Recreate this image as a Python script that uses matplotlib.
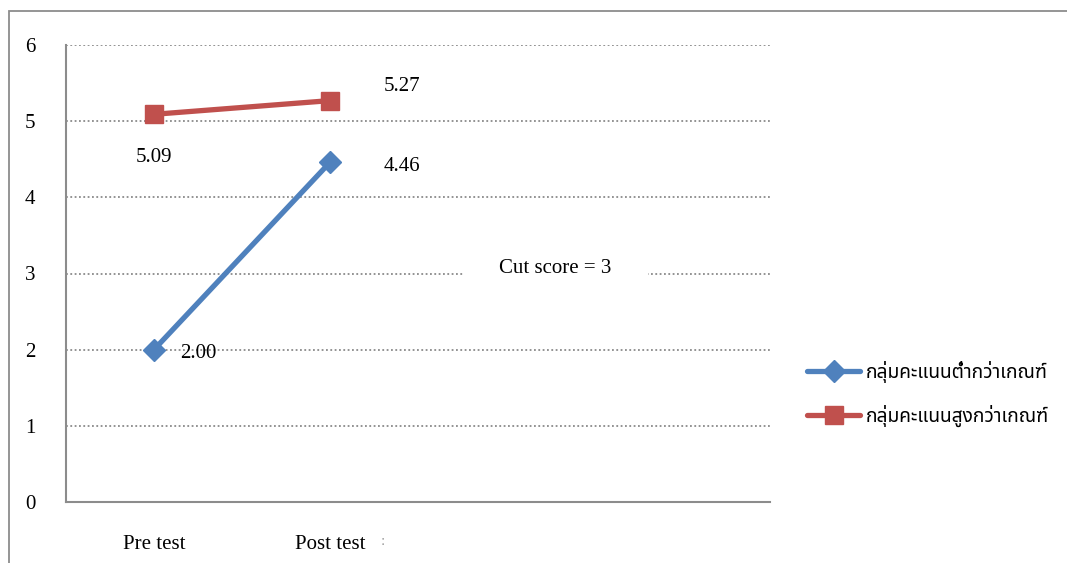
import matplotlib
matplotlib.use("Agg")
import matplotlib.pyplot as plt
from matplotlib import font_manager
from matplotlib.patches import Rectangle

# ---- data -------------------------------------------------------------
categories = ["Pre test", "Post test", "", ""]
series_names = ["กลุ่มคะแนนต่ำกว่าเกณฑ์", "กลุ่มคะแนนสูงกว่าเกณฑ์"]
low_group = [2.00, 4.46]
high_group = [5.09, 5.27]
cut_score = 3
y_ticks = [0, 1, 2, 3, 4, 5, 6]

BLUE = "#4F81BD"
RED = "#C0504D"
GREY = "#8C8C8C"


def find_thai_family():
    """Return the name of an installed family that covers Thai, if any."""
    try:
        from fontTools.ttLib import TTFont
    except ImportError:
        return None
    found = []
    for fe in font_manager.fontManager.ttflist:
        try:
            f = TTFont(fe.fname, fontNumber=0, lazy=True)
            cmap = f.getBestCmap()
            if cmap and all(c in cmap for c in (0x0E01, 0x0E13, 0x0E48, 0x0E38)):
                found.append(fe.name)
        except Exception:
            continue
    if not found:
        return None
    for pref in ("Tahoma", "Noto Sans Thai", "Noto Sans Thai UI", "Loma", "Garuda",
                 "Sarabun", "Kinnari", "DejaVu Sans"):
        if pref in found:
            return pref
    return found[0]


thai = find_thai_family()
legend_family = [thai, "DejaVu Sans"] if thai else ["DejaVu Sans"]

serif = ["Liberation Serif", "DejaVu Serif"]
plt.rcParams["font.family"] = serif

fig = plt.figure(figsize=(10.67, 5.63), dpi=100)
ax = fig.add_axes([66 / 1067, 1 - 502 / 563, (770 - 66) / 1067, (502 - 45) / 563])

# outer chart border (open to the right and bottom)
fig.patches.append(Rectangle((9 / 1067, -0.05), 1.2, 1 - 11 / 563 + 0.05,
                             transform=fig.transFigure, fill=False,
                             edgecolor=GREY, linewidth=1.3, zorder=0))

x = [i + 0.5 for i in range(len(categories))]
ax.set_xlim(0, len(categories))
ax.set_ylim(0, 6)

# dotted horizontal gridlines
for yv in y_ticks[1:]:
    ax.axhline(yv, color="#8A8A8A", linewidth=1.3, linestyle=(0, (1, 1.4)), zorder=1)

ln1, = ax.plot(x[:len(low_group)], low_group, color=BLUE, linewidth=3.8,
               marker="D", markersize=11, markeredgecolor=BLUE, zorder=4,
               solid_capstyle="round")
ln2, = ax.plot(x[:len(high_group)], high_group, color=RED, linewidth=3.8,
               marker="s", markersize=13, markeredgecolor=RED, zorder=4,
               solid_capstyle="round")

# value labels
lab_kw = dict(textcoords="offset points", fontsize=15, ha="center", va="center",
              family=serif, zorder=6)
ax.annotate(f"{low_group[0]:.2f}", (x[0], low_group[0]), xytext=(32, -3), **lab_kw)
ax.annotate(f"{low_group[1]:.2f}", (x[1], low_group[1]), xytext=(52, -3), **lab_kw)
ax.annotate(f"{high_group[0]:.2f}", (x[0], high_group[0]), xytext=(0, -31), **lab_kw)
ax.annotate(f"{high_group[1]:.2f}", (x[1], high_group[1]), xytext=(52, 10), **lab_kw)

# cut score note on a white box over the gridline
ax.text(2.78, cut_score + 0.07, f"Cut score = {cut_score}", fontsize=15,
        ha="center", va="center", zorder=5,
        bbox=dict(boxstyle="square,pad=1.75", facecolor="white", edgecolor="none"))

# axes styling
for side in ("top", "right"):
    ax.spines[side].set_visible(False)
for side in ("left", "bottom"):
    ax.spines[side].set_color(GREY)
    ax.spines[side].set_linewidth(1.5)
ax.set_yticks(y_ticks)
ax.set_yticklabels([str(v) for v in y_ticks])
ax.set_xticks(x)
ax.set_xticklabels(categories)
ax.tick_params(axis="y", length=0, pad=22, labelsize=15)
ax.tick_params(axis="x", length=0, pad=24, labelsize=15)
ax.text(x[1] + 0.3, -0.52, ":", fontsize=11, color="#9A9A9A",
        ha="center", va="center", clip_on=False)

leg = fig.legend([ln1, ln2], series_names, loc="center left",
                 bbox_to_anchor=(790 / 1067, 1 - 394 / 563), frameon=False,
                 handlelength=2.75, handletextpad=0.3, labelspacing=1.15,
                 prop=dict(family=legend_family, size=13.8))

fig.savefig("out.png", dpi=100, facecolor="white")
